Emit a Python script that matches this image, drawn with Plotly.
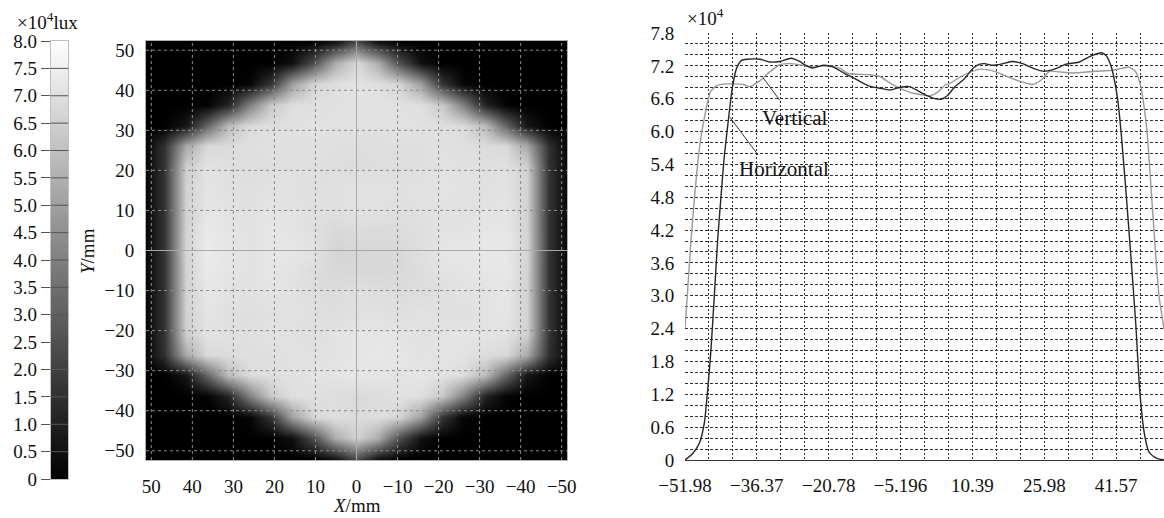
import plotly.graph_objects as go

# ---------------- data ----------------
# grid of the illuminance map (mm)
grid_mm = [-52.0, -46.8, -41.6, -36.4, -31.2, -26.0, -20.8, -15.6, -10.4, -5.2, 0.0,
           5.2, 10.4, 15.6, 20.8, 26.0, 31.2, 36.4, 41.6, 46.8, 52.0]
# illuminance (x10^4 lux), rows from y=-52 (bottom) to y=52 (top), columns x=-52..52
illum_rows = [
    [0, 0, 0, 0, 0, 0, 0, 0, 0.05, 0.6, 2.4, 0.6, 0.05, 0, 0, 0, 0, 0, 0, 0, 0],
    [0, 0, 0, 0, 0, 0, 0, 0.5, 2.5, 5.4, 6.6, 5.4, 2.5, 0.5, 0, 0, 0, 0, 0, 0, 0],
    [0, 0, 0, 0, 0, 0.2, 1.7, 5.0, 6.7, 6.95, 6.87, 7.0, 6.8, 5.0, 1.7, 0.2, 0, 0, 0, 0, 0],
    [0, 0, 0, 0.1, 1.1, 4.1, 6.3, 7.0, 7.05, 6.9, 6.84, 6.95, 7.0, 7.0, 6.3, 4.1, 1.1, 0.1, 0, 0, 0],
    [0, 0, 0.7, 3.2, 5.9, 6.9, 7.1, 7.2, 7.15, 7.2, 7.22, 7.15, 7.1, 7.05, 7.0, 6.9, 5.9, 3.2, 0.7, 0, 0],
    [0, 1.5, 5.3, 6.8, 6.9, 7.1, 7.15, 7.1, 7.2, 7.25, 7.2, 7.1, 7.05, 7.1, 7.0, 7.0, 6.9, 6.8, 5.3, 1.5, 0],
    [0, 1.6, 6.5, 7.1, 7.15, 7.2, 7.1, 7.05, 7.15, 7.2, 7.2, 7.1, 7.0, 7.05, 7.1, 7.0, 7.05, 7.1, 6.5, 1.6, 0],
    [0, 1.6, 6.6, 7.2, 7.1, 7.0, 7.05, 7.1, 7.0, 7.05, 7.05, 6.95, 7.0, 7.1, 7.05, 7.0, 7.0, 7.15, 6.6, 1.6, 0],
    [0, 1.6, 6.6, 7.2, 7.15, 7.1, 7.0, 6.9, 6.9, 6.95, 7.02, 6.9, 6.95, 7.1, 7.15, 7.05, 7.1, 7.25, 6.6, 1.6, 0],
    [0, 1.6, 6.6, 7.25, 7.2, 7.15, 7.1, 6.95, 6.8, 6.75, 6.8, 6.75, 6.9, 7.1, 7.2, 7.1, 7.15, 7.3, 6.6, 1.6, 0],
    [0, 1.6, 6.7, 7.3, 7.28, 7.25, 7.2, 6.98, 6.8, 6.8, 6.7, 6.66, 7.1, 7.22, 7.24, 7.1, 7.22, 7.39, 6.7, 1.6, 0],
    [0, 1.6, 6.6, 7.2, 7.2, 7.1, 7.1, 7.0, 6.9, 6.85, 6.9, 6.8, 7.0, 7.15, 7.2, 7.1, 7.15, 7.3, 6.6, 1.6, 0],
    [0, 1.6, 6.6, 7.15, 7.1, 7.05, 7.1, 7.05, 7.0, 7.05, 7.09, 7.0, 7.05, 7.1, 7.15, 7.05, 7.1, 7.2, 6.6, 1.6, 0],
    [0, 1.6, 6.6, 7.1, 7.05, 7.1, 7.15, 7.1, 7.05, 7.1, 7.12, 7.05, 7.0, 7.05, 7.1, 7.0, 7.05, 7.15, 6.6, 1.6, 0],
    [0, 1.6, 6.5, 7.05, 7.0, 7.05, 7.1, 7.0, 6.95, 6.95, 6.93, 6.95, 7.0, 7.05, 7.0, 6.95, 7.0, 7.1, 6.5, 1.6, 0],
    [0, 1.5, 5.3, 6.8, 6.9, 7.0, 7.05, 7.0, 7.0, 6.95, 6.96, 7.0, 7.05, 7.0, 7.05, 7.0, 6.9, 6.8, 5.3, 1.5, 0],
    [0, 0, 0.7, 3.2, 5.9, 6.9, 7.0, 7.05, 7.1, 7.05, 7.08, 7.05, 7.1, 7.05, 7.0, 6.9, 5.9, 3.2, 0.7, 0, 0],
    [0, 0, 0, 0.1, 1.1, 4.1, 6.3, 7.0, 7.05, 7.1, 7.1, 7.05, 7.0, 6.95, 6.3, 4.1, 1.1, 0.1, 0, 0, 0],
    [0, 0, 0, 0, 0, 0.2, 1.7, 5.0, 6.7, 7.0, 7.14, 7.0, 6.7, 5.0, 1.7, 0.2, 0, 0, 0, 0, 0],
    [0, 0, 0, 0, 0, 0, 0, 0.5, 2.5, 5.4, 6.8, 5.4, 2.5, 0.5, 0, 0, 0, 0, 0, 0, 0],
    [0, 0, 0, 0, 0, 0, 0, 0, 0.05, 0.6, 2.4, 0.6, 0.05, 0, 0, 0, 0, 0, 0, 0, 0],
]
map_ticks = [-50, -40, -30, -20, -10, 0, 10, 20, 30, 40, 50]

cbar_levels = [0, 0.5, 1.0, 1.5, 2.0, 2.5, 3.0, 3.5, 4.0, 4.5, 5.0, 5.5, 6.0, 6.5, 7.0, 7.5, 8.0]
cbar_labels = ["0", "0.5", "1.0", "1.5", "2.0", "2.5", "3.0", "3.5", "4.0",
               "4.5", "5.0", "5.5", "6.0", "6.5", "7.0", "7.5", "8.0"]

# profile along the horizontal direction (x10^4 lux)
horiz_x = [-51.98, -50.3, -48.9, -47.8, -47.06, -46.35, -45.63, -44.9, -44.18, -43.47,
           -42.5, -41.7, -40.8, -39.7, -38.5, -35.7, -33.6, -31.4, -28.9, -27.1,
           -25.6, -24.2, -22.0, -19.9, -17.3, -15.2, -12.3, -9.6, -7.5, -5.2,
           -3.3, -1.3, 0.7, 2.2, 3.6, 5.0, 6.5, 8.5, 10.6, 12.0,
           13.0, 14.8, 17.0, 19.1, 21.3, 23.5, 26.0, 28.5, 30.7, 33.6,
           34.3, 36.45, 38.4, 39.4, 40.4, 41.2, 41.9, 42.6, 43.7, 44.8,
           45.85, 46.7, 47.7, 48.7, 50.2, 51.98]
horiz_y = [0.0, 0.12, 0.30, 0.67, 1.28, 2.01, 2.98, 4.01, 4.80, 5.53,
           6.26, 6.80, 7.15, 7.30, 7.32, 7.32, 7.27, 7.28, 7.34, 7.28,
           7.20, 7.16, 7.21, 7.18, 7.06, 6.97, 6.84, 6.79, 6.76, 6.81,
           6.82, 6.74, 6.65, 6.60, 6.59, 6.66, 6.81, 6.95, 7.16, 7.23,
           7.24, 7.21, 7.24, 7.28, 7.24, 7.16, 7.10, 7.15, 7.23, 7.27,
           7.30, 7.39, 7.44, 7.39, 7.22, 6.95, 6.60, 6.05, 4.93, 3.71,
           2.49, 1.28, 0.49, 0.15, 0.04, 0.0]
# profile along the vertical direction (x10^4 lux)
vert_x = [-51.98, -51.4, -50.68, -49.97, -49.23, -48.51, -47.8, -47.1, -46.5, -45.1,
          -43.0, -41.5, -39.35, -37.9, -35.7, -33.6, -31.4, -29.2, -26.4, -24.2,
          -21.3, -18.4, -16.6, -12.3, -9.8, -7.2, -5.0, -2.5, -0.5, 1.1,
          2.9, 4.5, 5.5, 8.0, 10.1, 12.3, 13.4, 15.2, 17.5, 20.3,
          23.5, 25.6, 27.1, 29.2, 32.1, 37.2, 40.8, 43.7, 44.3, 45.85,
          46.94, 47.66, 48.3, 48.9, 49.8, 50.9, 51.98]
vert_y = [2.41, 3.10, 4.01, 4.74, 5.41, 5.90, 6.24, 6.52, 6.72, 6.84,
          6.87, 6.87, 6.86, 6.82, 6.93, 7.09, 7.22, 7.24, 7.21, 7.18,
          7.20, 7.16, 7.06, 7.04, 7.01, 6.87, 6.78, 6.70, 6.67, 6.65,
          6.72, 6.85, 6.88, 7.01, 7.09, 7.14, 7.13, 7.10, 7.02, 6.93,
          6.86, 6.96, 7.10, 7.09, 7.07, 7.10, 7.12, 7.17, 7.18, 7.09,
          6.83, 6.45, 6.00, 5.30, 4.20, 3.00, 2.40]

prof_x_step = 5.198
prof_x_labels = ["\u221251.98", "\u221236.37", "\u221220.78", "\u22125.196", "10.39", "25.98", "41.57"]
prof_y_labels = ["0", "0.6", "1.2", "1.8", "2.4", "3.0", "3.6", "4.2", "4.8",
                 "5.4", "6.0", "6.6", "7.2", "7.8"]

# ---------------- figure ----------------
W, H = 1164, 518
def fx(px):
    return px / W
def fy(py):
    return 1 - py / H

FONT = "Liberation Serif"
TXT = "#111111"

fig = go.Figure()

gray = [[0, "#000000"], [1, "#ffffff"]]

fig.add_trace(go.Heatmap(x=grid_mm, y=grid_mm, z=illum_rows, colorscale=gray,
                         zmin=0, zmax=8, zsmooth="best", showscale=False,
                         hoverinfo="skip", xaxis="x", yaxis="y"))

fig.add_trace(go.Heatmap(x=[0, 1], y=cbar_levels, z=[[v, v] for v in cbar_levels],
                         colorscale=gray, zmin=0, zmax=8, zsmooth="best",
                         showscale=False, hoverinfo="skip", xaxis="x3", yaxis="y3"))

fig.add_trace(go.Scatter(x=vert_x, y=vert_y, mode="lines", name="Vertical",
                         line=dict(color="#999999", width=1.4, shape="spline", smoothing=0.6),
                         hoverinfo="skip", xaxis="x2", yaxis="y2"))
fig.add_trace(go.Scatter(x=horiz_x, y=horiz_y, mode="lines", name="Horizontal",
                         line=dict(color="#262626", width=1.4, shape="spline", smoothing=0.6),
                         hoverinfo="skip", xaxis="x2", yaxis="y2"))

prof_xticks = [round(-51.98 + k * prof_x_step, 3) for k in range(21)]
prof_xtext = [prof_x_labels[k // 3] if k % 3 == 0 else "" for k in range(21)]
prof_yticks = [round(k * 0.2, 1) for k in range(40)]
prof_ytext = [prof_y_labels[k // 3] if k % 3 == 0 else "" for k in range(40)]

clear = "rgba(0,0,0,0)"
TICKFONT = dict(family=FONT, size=19, color=TXT)
fig.update_layout(
    width=W, height=H, margin=dict(l=0, r=0, t=0, b=0, autoexpand=False),
    paper_bgcolor="white", plot_bgcolor="white", showlegend=False,
    font=dict(family=FONT, size=19, color=TXT),
    xaxis=dict(domain=[fx(146), fx(567)], range=[51.3, -51.3], anchor="y", automargin=False,
               tickmode="array", tickvals=map_ticks, ticks="outside", ticklen=9,
               tickcolor=clear, tickfont=TICKFONT, showgrid=False, zeroline=False,
               showline=True, linecolor="#b0b0b0", mirror=True),
    yaxis=dict(domain=[fy(460), fy(41)], range=[-52.3, 52.3], anchor="x", automargin=False,
               tickmode="array", tickvals=map_ticks, ticks="outside", ticklen=7,
               tickcolor=clear, tickfont=TICKFONT, showgrid=False, zeroline=False,
               showline=True, linecolor="#b0b0b0", mirror=True),
    xaxis2=dict(domain=[fx(685), 1.0], range=[-51.98, 51.98], anchor="y2", automargin=False,
                tickmode="array", tickvals=prof_xticks, ticktext=prof_xtext,
                ticks="outside", ticklen=8, tickcolor=clear, tickfont=TICKFONT,
                showgrid=True, gridcolor="#2e2e2e", gridwidth=1, griddash="2px,2px",
                zeroline=False, showline=True, linecolor="#333333", linewidth=1),
    yaxis2=dict(domain=[fy(460), fy(33)], range=[0, 7.8], anchor="x2", automargin=False,
                tickmode="array", tickvals=prof_yticks, ticktext=prof_ytext,
                ticks="outside", ticklen=6, tickcolor=clear, tickfont=TICKFONT,
                showgrid=True, gridcolor="#2e2e2e", gridwidth=1, griddash="3px,2px",
                zeroline=False, showline=False),
    xaxis3=dict(domain=[fx(50.7), fx(68.3)], range=[0, 1], anchor="y3", automargin=False,
                showticklabels=False, ticks="", showgrid=False, zeroline=False,
                showline=True, linecolor="#c0c0c0", mirror=True),
    yaxis3=dict(domain=[fy(479), fy(41)], range=[0, 8], anchor="x3", automargin=False,
                tickmode="array", tickvals=cbar_levels, ticktext=cbar_labels,
                ticks="outside", ticklen=9, tickcolor="#555555", tickfont=TICKFONT,
                showgrid=False, zeroline=False,
                showline=True, linecolor="#c0c0c0", mirror=True),
)

shapes = []
for v in map_ticks:
    solid = (v == 0)
    style = dict(color="#a8a8a8" if solid else "#8a8a8a", width=1,
                 dash="solid" if solid else "dot")
    shapes.append(dict(type="line", xref="x", yref="y domain", x0=v, x1=v, y0=0, y1=1,
                       line=style, layer="above"))
    shapes.append(dict(type="line", xref="x domain", yref="y", x0=0, x1=1, y0=v, y1=v,
                       line=style, layer="above"))
for v in cbar_levels[1:-1]:
    shapes.append(dict(type="line", xref="x3 domain", yref="y3", x0=0, x1=1, y0=v, y1=v,
                       line=dict(color="#555555", width=1), layer="above"))
# leader lines from the labels to the curves
leader = dict(color="#333333", width=1)
shapes.append(dict(type="line", xref="x2", yref="y2", x0=-35.02, y0=6.98, x1=-31.40, y1=6.57,
                   line=leader, layer="above"))
shapes.append(dict(type="line", xref="x2", yref="y2", x0=-42.23, y0=6.26, x1=-36.10, y1=5.57,
                   line=leader, layer="above"))
fig.update_layout(shapes=shapes)

ann = [
    dict(xref="paper", yref="paper", x=fx(47), y=fy(21), text="\u00d710<sup>4</sup>lux",
         showarrow=False, xanchor="center", yanchor="middle", font=dict(size=19)),
    dict(xref="paper", yref="paper", x=fx(87), y=fy(251), text="<i>Y</i>/mm",
         showarrow=False, textangle=-90, xanchor="center", yanchor="middle", font=dict(size=19)),
    dict(xref="paper", yref="paper", x=fx(357), y=fy(505), text="<i>X</i>/mm",
         showarrow=False, xanchor="center", yanchor="middle", font=dict(size=19)),
    dict(xref="paper", yref="paper", x=fx(685), y=fy(17), text="\u00d710<sup>4</sup>",
         showarrow=False, xanchor="left", yanchor="middle", font=dict(size=19)),
    dict(xref="x2", yref="y2", x=-28.16, y=6.24, text="Vertical", showarrow=False,
         xanchor="center", yanchor="middle", font=dict(size=21)),
    dict(xref="x2", yref="y2", x=-30.54, y=5.32, text="Horizontal", showarrow=False,
         xanchor="center", yanchor="middle", font=dict(size=21)),
]
fig.update_layout(annotations=ann)

# remove the default page margin so the figure sits at the window's corner
fig.write_html("out.html", config={"displayModeBar": False},
               post_script="document.body.style.margin='0px';document.body.style.overflow='hidden';")
